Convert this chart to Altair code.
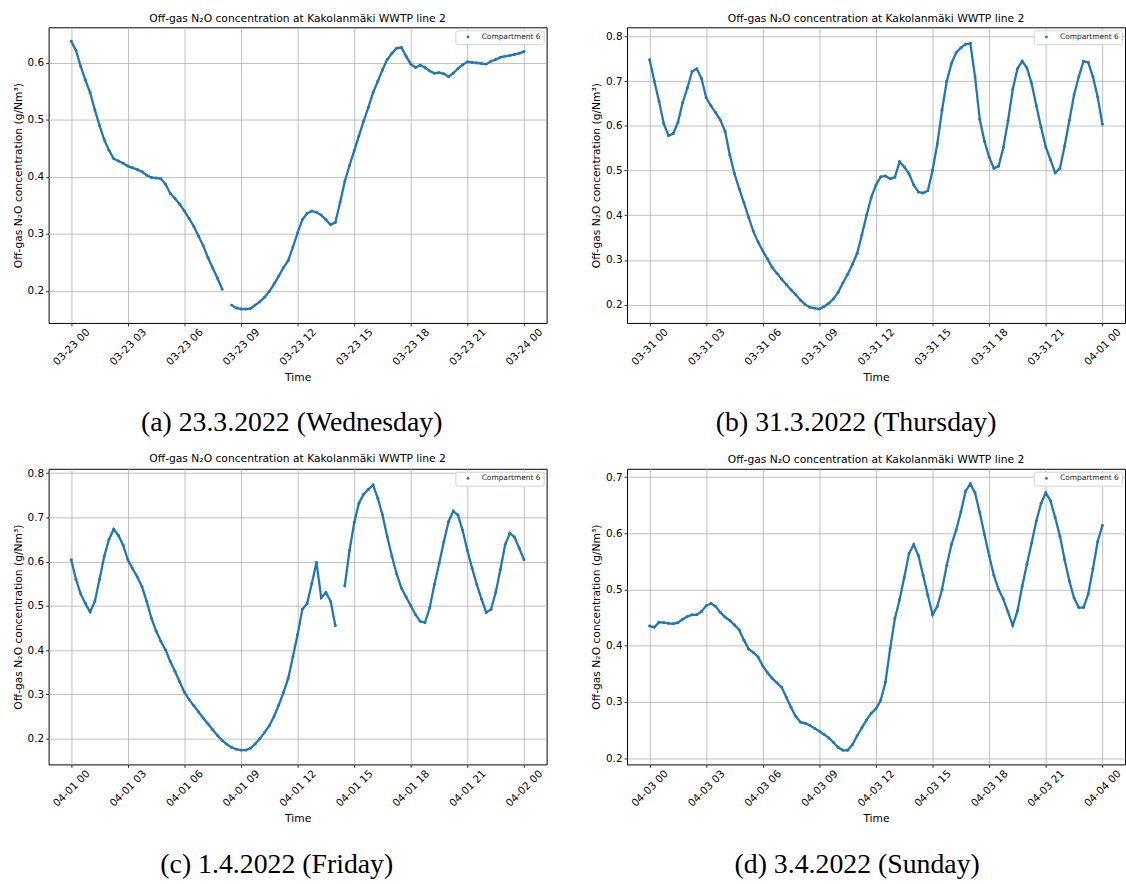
import altair as alt
import pandas as pd

BLUE = "#1f77b4"
TITLE = "Off-gas N₂O concentration at Kakolanmäki WWTP line 2"
YLABEL = "Off-gas N₂O concentration (g/Nm³)"
XLABEL = "Time"
SERIES = "Compartment 6"

# quarter-hour sample times (hours after midnight)
HOURS = [q / 4 for q in range(97)]
X_TICKS = [0, 3, 6, 9, 12, 15, 18, 21, 24]

# (a) 23.3.2022
VALUES_A = [
    0.638, 0.622, 0.594, 0.570, 0.548, 0.518, 0.490, 0.465, 0.447, 0.432, 0.428, 0.424,
    0.419, 0.416, 0.413, 0.409, 0.403, 0.399, 0.398, 0.397, 0.387, 0.371, 0.362, 0.352,
    0.340, 0.327, 0.313, 0.296, 0.279, 0.258, 0.240, 0.222, 0.203, None, 0.175, 0.170,
    0.168, 0.168, 0.169, 0.175, 0.181, 0.189, 0.199, 0.212, 0.226, 0.241, 0.253, 0.277,
    0.302, 0.325, 0.336, 0.340, 0.338, 0.333, 0.325, 0.316, 0.320, 0.355, 0.392, 0.420,
    0.446, 0.472, 0.498, 0.522, 0.548, 0.568, 0.588, 0.606, 0.617, 0.626, 0.627, 0.612,
    0.598, 0.592, 0.596, 0.592, 0.586, 0.582, 0.583, 0.581, 0.576, 0.582, 0.590, 0.597,
    0.602, 0.601, 0.600, 0.599, 0.598, 0.603, 0.606, 0.610, 0.612, 0.613, 0.615, 0.617,
    0.620,
]

# (b) 31.3.2022
VALUES_B = [
    0.748, 0.700, 0.655, 0.605, 0.578, 0.583, 0.608, 0.652, 0.685, 0.722, 0.728, 0.706,
    0.663, 0.645, 0.630, 0.613, 0.588, 0.535, 0.493, 0.459, 0.428, 0.395, 0.364, 0.340,
    0.320, 0.302, 0.283, 0.270, 0.257, 0.245, 0.233, 0.222, 0.210, 0.200, 0.194, 0.192,
    0.190, 0.196, 0.203, 0.213, 0.228, 0.249, 0.268, 0.290, 0.315, 0.356, 0.400, 0.440,
    0.468, 0.486, 0.488, 0.482, 0.485, 0.520, 0.508, 0.493, 0.468, 0.452, 0.450, 0.455,
    0.501, 0.560, 0.635, 0.700, 0.740, 0.764, 0.775, 0.783, 0.785, 0.710, 0.615, 0.566,
    0.530, 0.505, 0.510, 0.552, 0.612, 0.682, 0.728, 0.745, 0.730, 0.695, 0.645, 0.597,
    0.553, 0.524, 0.495, 0.505, 0.555, 0.612, 0.670, 0.710, 0.745, 0.742, 0.710, 0.665,
    0.604,
]

# (c) 1.4.2022
VALUES_C = [
    0.604, 0.560, 0.527, 0.505, 0.486, 0.510, 0.560, 0.612, 0.650, 0.673, 0.659, 0.637,
    0.604, 0.584, 0.565, 0.543, 0.510, 0.472, 0.443, 0.420, 0.400, 0.374, 0.352, 0.328,
    0.305, 0.288, 0.274, 0.260, 0.246, 0.233, 0.220, 0.207, 0.196, 0.187, 0.180, 0.176,
    0.174, 0.174, 0.178, 0.188, 0.200, 0.214, 0.229, 0.250, 0.276, 0.304, 0.336, 0.385,
    0.435, 0.492, 0.505, 0.550, 0.598, 0.518, 0.530, 0.510, 0.455, None, 0.545, 0.625,
    0.688, 0.732, 0.752, 0.763, 0.773, 0.743, 0.705, 0.656, 0.612, 0.572, 0.540, 0.520,
    0.500, 0.480, 0.465, 0.462, 0.495, 0.548, 0.595, 0.645, 0.690, 0.714, 0.705, 0.670,
    0.625, 0.585, 0.548, 0.515, 0.485, 0.492, 0.530, 0.582, 0.638, 0.664, 0.655, 0.630,
    0.604,
]

# (d) 3.4.2022
VALUES_D = [
    0.435, 0.433, 0.442, 0.441, 0.440, 0.439, 0.441, 0.447, 0.452, 0.455, 0.455, 0.461,
    0.471, 0.475, 0.470, 0.459, 0.451, 0.445, 0.437, 0.428, 0.410, 0.394, 0.388, 0.380,
    0.364, 0.352, 0.342, 0.334, 0.326, 0.308, 0.290, 0.274, 0.264, 0.262, 0.258, 0.253,
    0.248, 0.242, 0.236, 0.228, 0.219, 0.214, 0.214, 0.224, 0.240, 0.254, 0.268, 0.280,
    0.288, 0.303, 0.335, 0.395, 0.448, 0.482, 0.522, 0.564, 0.580, 0.560, 0.525, 0.490,
    0.455, 0.470, 0.500, 0.543, 0.580, 0.606, 0.638, 0.675, 0.688, 0.672, 0.637, 0.598,
    0.560, 0.525, 0.500, 0.483, 0.460, 0.436, 0.462, 0.506, 0.545, 0.583, 0.622, 0.653,
    0.672, 0.658, 0.628, 0.595, 0.553, 0.515, 0.485, 0.468, 0.468, 0.492, 0.537, 0.585,
    0.614,
]

PANELS = [
    dict(values=VALUES_A, day="03-23", nextday="03-24", ydomain=[0.1437, 0.6626],
         yticks=[0.2, 0.3, 0.4, 0.5, 0.6], caption="(a) 23.3.2022 (Wednesday)", cx=245),
    dict(values=VALUES_B, day="03-31", nextday="04-01", ydomain=[0.159, 0.8208],
         yticks=[0.2, 0.3, 0.4, 0.5, 0.6, 0.7, 0.8], caption="(b) 31.3.2022 (Thursday)", cx=231),
    dict(values=VALUES_C, day="04-01", nextday="04-02", ydomain=[0.1417, 0.8096],
         yticks=[0.2, 0.3, 0.4, 0.5, 0.6, 0.7, 0.8], caption="(c) 1.4.2022 (Friday)", cx=230),
    dict(values=VALUES_D, day="04-03", nextday="04-04", ydomain=[0.1889, 0.7148],
         yticks=[0.2, 0.3, 0.4, 0.5, 0.6, 0.7], caption="(d) 3.4.2022 (Sunday)", cx=232),
]


def frame(values):
    rows = []
    seg = 0
    for h, v in zip(HOURS, values):
        if v is None:
            seg += 1
            continue
        rows.append({"hour": h, "value": v, "seg": seg, "series": SERIES})
    return pd.DataFrame(rows)


def panel(p):
    df = frame(p["values"])
    label_expr = (
        f"datum.value == 24 ? '{p['nextday']} 00' : "
        f"'{p['day']} ' + (datum.value < 10 ? '0' + datum.value : '' + datum.value)"
    )
    x = alt.X(
        "hour:Q",
        scale=alt.Scale(domain=[-1.2, 25.2], nice=False, zero=False),
        axis=alt.Axis(
            values=X_TICKS, labelExpr=label_expr, title=XLABEL, labelAngle=315,
            labelAlign="center", labelBaseline="middle", labelPadding=21,
            titlePadding=4, labelOverlap=False, labelFlush=False, labelBound=False,
        ),
    )
    y = alt.Y(
        "value:Q",
        scale=alt.Scale(domain=p["ydomain"], nice=False, zero=False),
        axis=alt.Axis(values=p["yticks"], format=".1f", title=YLABEL,
                      labelPadding=2, titlePadding=4),
    )
    base = alt.Chart(df)
    line = base.mark_line(color=BLUE, strokeWidth=2.3).encode(x=x, y=y, detail="seg:N")
    pts = base.mark_circle(size=9, opacity=1).encode(
        x=x,
        y=y,
        color=alt.Color(
            "series:N",
            scale=alt.Scale(range=[BLUE]),
            title=None,
            legend=alt.Legend(
                orient="top-right", offset=3, padding=3, fillColor="white",
                strokeColor="#d0d0d0", cornerRadius=2, labelFontSize=7.5,
                labelFont="DejaVu Sans", labelColor="#222222", symbolType="circle",
                symbolSize=8, symbolOffset=6, labelOffset=10, symbolStrokeWidth=0,
            ),
        ),
    )
    return alt.layer(line, pts).properties(
        width=502, height=298,
        title=alt.TitleParams(TITLE, anchor="middle", fontSize=10.8, font="DejaVu Sans",
                              fontWeight="normal", color="black", offset=4),
    )


def caption(p):
    return (
        alt.Chart(pd.DataFrame({"caption": [p["caption"]]}))
        .mark_text(font="Liberation Serif", fontSize=28, align="center",
                   baseline="middle", color="black")
        .encode(text="caption:N", x=alt.value(p["cx"]), y=alt.value(15))
        .properties(width=502, height=30, view=alt.ViewBackground(stroke="transparent"))
    )


def indep(c):
    return c.resolve_scale(color="independent").resolve_legend(color="independent")


cols = [indep(alt.vconcat(panel(p), caption(p), spacing=25)) for p in PANELS]
row1 = indep(alt.hconcat(cols[0], cols[1], spacing=42))
row2 = indep(alt.hconcat(cols[2], cols[3], spacing=42))

chart = (
    indep(alt.vconcat(row1, row2, spacing=13))
    .properties(padding={"left": 11, "top": 8, "right": 0, "bottom": 0})
    .configure_axis(
        labelFont="DejaVu Sans", labelFontSize=10.5, labelColor="black",
        titleFont="DejaVu Sans", titleFontSize=10.8, titleColor="black",
        titleFontWeight="normal", tickColor="black", tickSize=3, tickWidth=0.8,
        gridColor="#b0b0b0", gridWidth=0.8, domain=False,
    )
    .configure_view(stroke="black", strokeWidth=1)
)

chart.save("out.html", embed_options={"renderer": "svg", "actions": False})
